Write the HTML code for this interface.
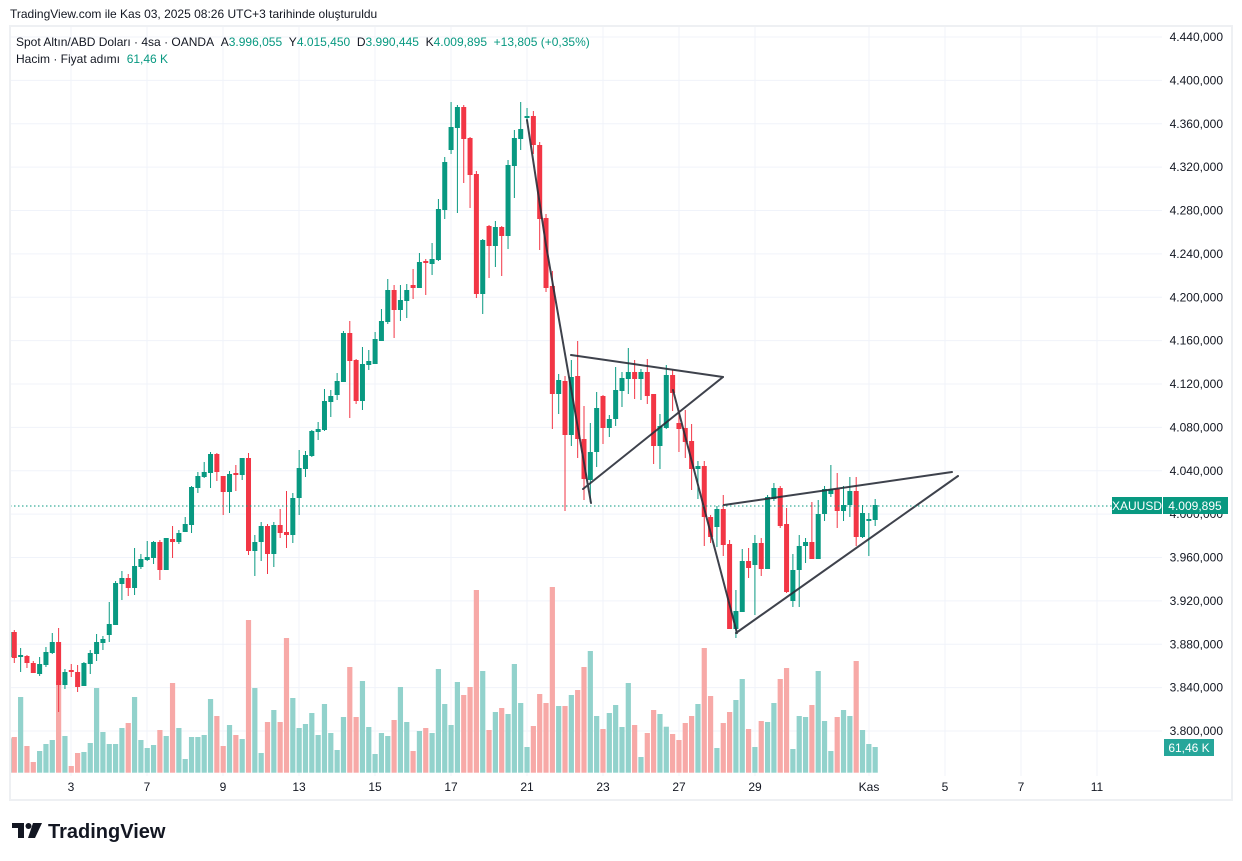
<!DOCTYPE html>
<html><head><meta charset="utf-8">
<style>
html,body{margin:0;padding:0;background:#fff;width:1242px;height:861px;overflow:hidden;font-family:"Liberation Sans",sans-serif;}
svg{position:absolute;left:0;top:0;}
</style></head>
<body>
<svg id="s" width="1242" height="861" viewBox="0 0 1242 861" xmlns="http://www.w3.org/2000/svg" font-family="Liberation Sans, sans-serif">
<rect x="0" y="0" width="1242" height="861" fill="#fff"/>
<g id="grid"></g>
<g id="vol"></g>
<g id="cdl"></g>
<g stroke="#2a2e39" stroke-width="2" fill="none" stroke-linecap="round" opacity="0.9">
<polyline points="527,120 546,245 591,503"/>
<line x1="571" y1="355" x2="723" y2="377"/>
<line x1="723" y1="377" x2="583" y2="489"/>
<line x1="673" y1="390" x2="737" y2="633"/>
<line x1="736" y1="633" x2="958" y2="476"/>
<line x1="724" y1="505" x2="952" y2="472"/>
</g>
<line x1="10" y1="506" x2="1112" y2="506" stroke="#089981" stroke-width="1" stroke-dasharray="1.5,2.5"/>
<rect x="10" y="26" width="1222" height="774" fill="none" stroke="#eef0f3" stroke-width="2"/>
<g id="axis" font-size="12" fill="#131722" text-anchor="end"></g>
<g font-size="12" fill="#131722" text-anchor="middle">
<text x="71" y="791">3</text><text x="147" y="791">7</text><text x="223" y="791">9</text>
<text x="299" y="791">13</text><text x="375" y="791">15</text><text x="451" y="791">17</text>
<text x="527" y="791">21</text><text x="603" y="791">23</text><text x="679" y="791">27</text>
<text x="755" y="791">29</text><text x="869" y="791">Kas</text><text x="945" y="791">5</text>
<text x="1021" y="791">7</text><text x="1097" y="791">11</text>
</g>
<rect x="1112" y="497" width="50" height="17" fill="#089981"/>
<text x="1137" y="510" font-size="12" fill="#fff" text-anchor="middle">XAUUSD</text>
<rect x="1163" y="497" width="65" height="17" fill="#089981"/>
<text x="1195" y="510" font-size="12" fill="#fff" text-anchor="middle">4.009,895</text>
<rect x="1164" y="739" width="50" height="17" fill="#26a69a"/>
<text x="1189" y="752" font-size="12" fill="#fff" text-anchor="middle">61,46 K</text>
<text x="10" y="18" font-size="12" fill="#131722">TradingView.com ile Kas 03, 2025 08:26 UTC+3 tarihinde oluşturuldu</text>
<text x="16" y="46" font-size="12" fill="#131722">Spot Altın/ABD Doları · 4sa · OANDA&#160;&#160;A<tspan fill="#089981">3.996,055</tspan>&#160;&#160;Y<tspan fill="#089981">4.015,450</tspan>&#160;&#160;D<tspan fill="#089981">3.990,445</tspan>&#160;&#160;K<tspan fill="#089981">4.009,895&#160;&#160;+13,805 (+0,35%)</tspan></text>
<text x="16" y="63" font-size="12" fill="#131722">Hacim · Fiyat adımı&#160;&#160;<tspan fill="#089981">61,46 K</tspan></text>
<g fill="#131722">
<rect x="12" y="823" width="12" height="5"/><rect x="18" y="823" width="6" height="15"/>
<circle cx="28.5" cy="826" r="3"/>
<polygon points="33,823 42,823 35,838 28,838"/>
</g>
<text x="48" y="838" font-size="20" font-weight="bold" fill="#131722">TradingView</text>
</svg>
<script>
var NS="http://www.w3.org/2000/svg";
function el(p,t,a){var e=document.createElementNS(NS,t);for(var k in a)e.setAttribute(k,a[k]);p.appendChild(e);return e;}
var grid=document.getElementById('grid'),axis=document.getElementById('axis');
for(var n=0;n<=16;n++){var y=37+43.375*n;el(grid,'line',{x1:10,x2:1162,y1:y,y2:y,stroke:'#f0f3fa','stroke-width':1});
var p=4440-40*n;var t=el(axis,'text',{x:1223,y:y+4});t.textContent=(p/1000).toFixed(3)+',000';}
[71,147,223,299,375,451,527,603,679,755,869,945,1021,1097].forEach(function(x){el(grid,'line',{x1:x,x2:x,y1:26,y2:776,stroke:'#f0f3fa','stroke-width':1});});
var C=[
"r,632,658,630,663","g,655,657,648,672","r,656,663,655,668","r,663,673,661,673","g,664,674,657,676","g,652,665,647,667","g,642,653,633,654","r,642,685,628,712","g,672,685,669,689","r,670,672,664,677",
"r,672,687,665,692","g,663,686,662,686","g,653,664,650,674","g,642,654,634,661","g,639,643,636,650","g,624,635,602,642","g,583,625,581,625","g,578,584,571,600","r,578,588,574,596","g,566,588,548,595",
"g,559,567,554,569","g,557,560,541,561","g,542,558,541,564","r,542,570,540,580","g,538,570,538,570","r,539,542,526,558","g,533,542,530,544","g,524,532,517,532","g,487,525,486,533","g,476,488,472,493",
"g,472,477,462,478","g,454,473,452,488","r,454,472,453,481","r,476,492,476,515","g,474,492,471,513","r,473,475,465,491","g,458,475,458,480","r,458,551,453,555","g,542,551,535,576","g,526,542,522,561",
"r,526,554,524,574","g,525,554,522,567","r,525,533,509,538","r,532,535,491,548","g,498,535,493,543","g,468,498,450,515","g,455,469,451,477","g,431,456,430,457","g,429,432,422,440","g,401,430,389,431",
"g,396,402,390,417","g,381,395,373,400","g,333,382,331,382","r,333,361,321,418","r,360,401,359,404","g,364,401,347,410","g,361,365,350,370","g,339,364,332,364","g,321,341,309,341","g,290,322,279,324",
"r,290,310,285,338","g,300,310,285,321","g,290,301,284,318","r,285,288,269,299","g,262,288,253,288","r,261,263,259,295","g,259,264,243,275","g,209,260,199,261","g,162,210,157,219","g,127,150,102,154",
"g,107,128,105,213","r,107,139,105,183","r,138,175,137,208","r,174,294,171,298","g,240,294,239,314","r,226,246,225,278","g,227,246,221,267","r,227,236,226,276","g,165,236,160,249","g,138,166,130,198",
"g,129,139,102,150","g,116,118,108,124","r,116,145,111,154","r,145,219,142,250","r,218,288,214,292","r,286,394,271,429","g,380,394,374,414","r,381,435,376,511","g,377,435,360,446","r,376,439,341,458",
"r,439,479,406,500","g,452,480,423,502","g,408,452,392,467","r,396,428,395,444","g,419,428,415,437","g,390,419,367,426","g,378,391,372,407","g,372,379,348,394","r,372,379,360,399","g,372,379,369,400",
"r,372,396,359,404","r,394,446,394,464","g,426,446,414,469","g,375,428,365,429","r,375,393,370,411","r,423,429,410,452","r,428,442,410,458","r,441,469,424,490","g,466,469,461,499","r,466,517,461,546",
"r,517,537,515,543","g,509,527,506,547","r,509,545,495,556","r,544,629,540,629","g,611,629,590,638","g,561,612,549,612","r,561,568,548,578","g,543,565,535,615","r,543,569,538,576","g,497,569,495,569",
"g,488,499,483,501","r,488,526,486,528","r,524,592,508,593","g,570,601,554,607","g,546,570,535,607","g,542,546,538,563","r,542,559,502,559","g,514,559,500,559","g,489,514,486,521","g,489,494,465,497",
"r,489,511,473,528","g,505,511,486,521","g,491,505,477,517","r,491,537,477,546","g,513,537,505,538","g,519,521,513,556","g,505,520,499,526"];
var V=[471,351,498,546,513,492,480,303,468,558,519,516,489,324,456,492,492,444,429,351,480,504,495,450,468,309,444,537,471,471,465,357,408,498,435,465,477,120,324,519,426,390,426,174,354,444,432,399,465,372,459,510,411,261,411,303,441,522,459,468,420,321,426,513,453,444,459,267,372,435,
306,345,321,30,273,450,396,384,402,252,369,501,438,342,369,21,378,378,345,330,261,213,408,447,399,375,441,309,435,531,459,390,402,
440,
462,480,429,408,372,204,348,504,429,396,360,297,447,501,423,426,369,297,264,507,408,411,375,273,423,513,411,390,408,243,450,492,501];
var vol=document.getElementById('vol'),cdl=document.getElementById('cdl');
el(vol,'rect',{x:10,y:580+475/3,width:1.5,height:772.7-(580+475/3),fill:'#92d2cc'});
el(cdl,'rect',{x:10,y:632,width:1.5,height:25,fill:'#089981'});
for(var k=0;k<C.length;k++){
 var a=C[k].split(','),col=a[0]=='g'?'#089981':'#f23645',x=14.3+k*6.33;
 var bt=+a[1],bb=+a[2],wt=+a[3],wb=+a[4];if(bb-bt<1.5)bb=bt+1.5;
 var vt=580+V[k]/3;
 el(vol,'rect',{x:(x-2.6).toFixed(2),y:vt.toFixed(1),width:5.2,height:(772.7-vt).toFixed(1),fill:a[0]=='g'?'#92d2cc':'#f7a9a7'});
 el(cdl,'line',{x1:x.toFixed(2),x2:x.toFixed(2),y1:wt,y2:wb,stroke:col,'stroke-width':1});
 el(cdl,'rect',{x:(x-2.5).toFixed(2),y:bt,width:5,height:(bb-bt),fill:col});
}
</script>
</body></html>
